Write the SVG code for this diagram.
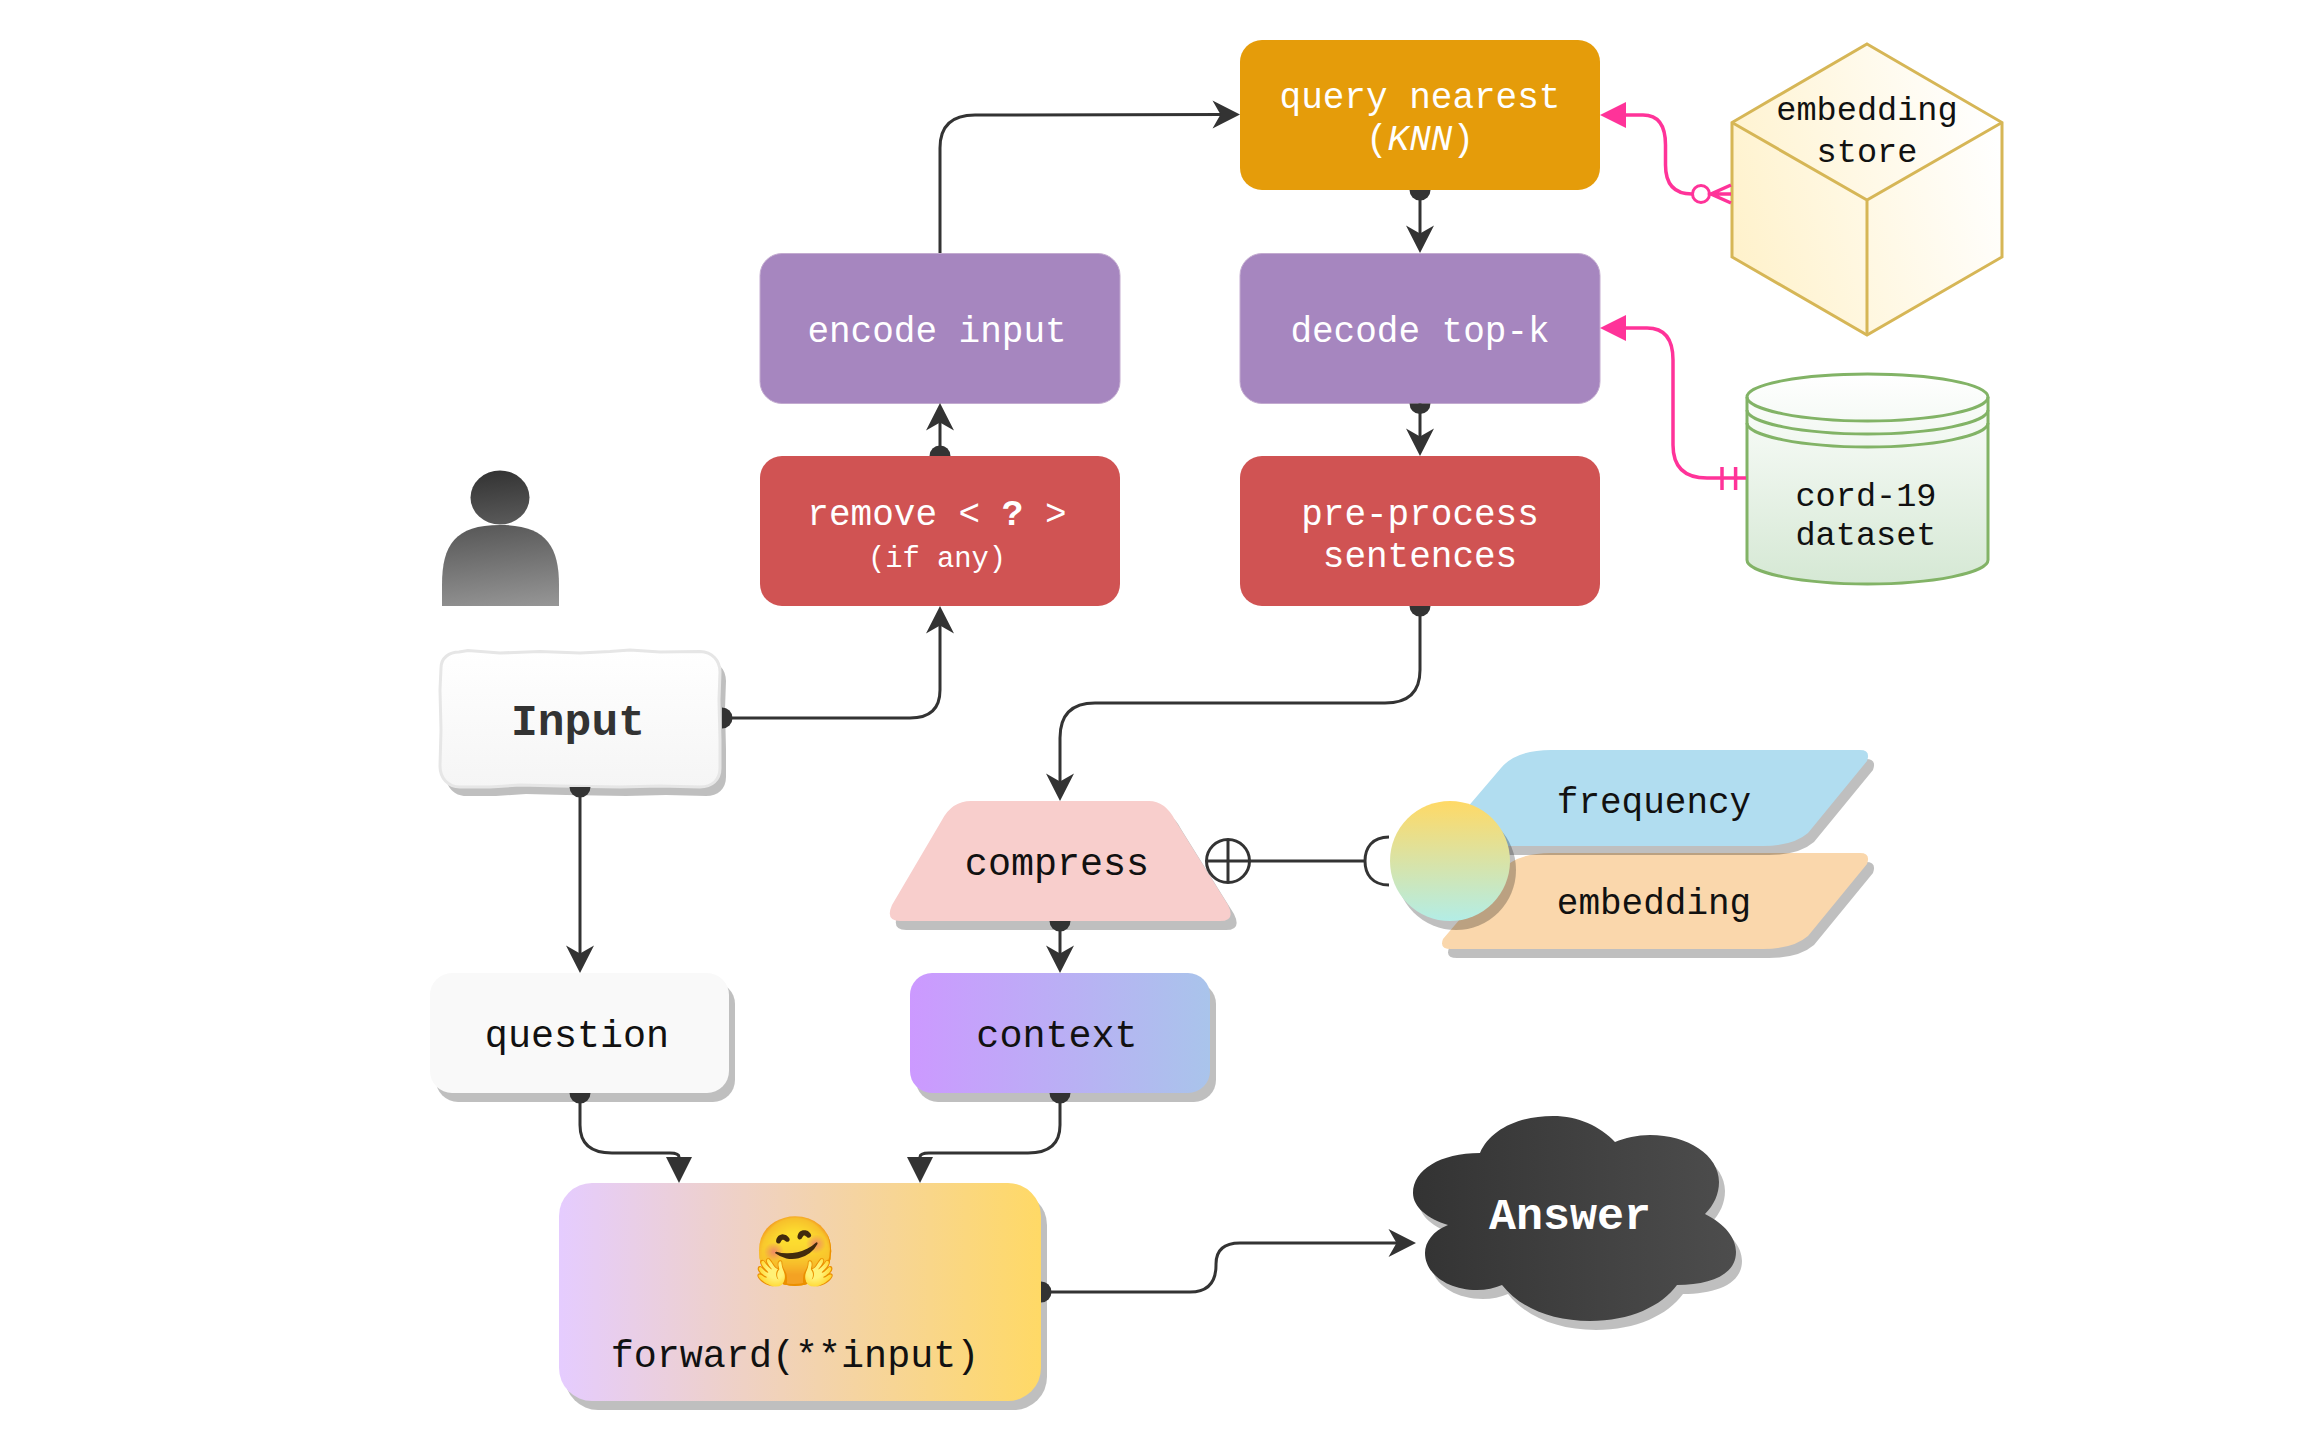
<svg xmlns="http://www.w3.org/2000/svg" xmlns:xlink="http://www.w3.org/1999/xlink" width="2305" height="1438" viewBox="0 0 2305 1438">
<style>
text{font-family:"Liberation Mono",monospace;text-anchor:middle}
.w{fill:#fff;font-size:36px}
.k{fill:#111;font-size:36px}
.m{fill:#111;font-size:38.4px}
.s{fill:#000;opacity:.25}
.c{fill:none;stroke:#333;stroke-width:3}
.p{fill:none;stroke:#f39;stroke-width:3.500}
.b{marker-start:url(#dot)}
.a{marker-end:url(#arrow)}
</style>
<defs>
<marker id="dot" markerUnits="userSpaceOnUse" markerWidth="24" markerHeight="24" viewBox="-1 -12 12 24" refX="0" refY="0" orient="auto"><path d="M0 -10.5A10.5 10.5 0 0 1 0 10.5Z" fill="#333"/></marker>
<marker id="arrow" markerUnits="userSpaceOnUse" markerWidth="44" markerHeight="40" viewBox="-20 -20 44 40" refX="2.500" refY="0" orient="auto"><path d="M-8 -14L19.500 0L-8 14L0 0Z" fill="#333"/></marker>
<marker id="tri" markerUnits="userSpaceOnUse" markerWidth="32" markerHeight="32" viewBox="-2 -16 32 32" refX="0" refY="0" orient="auto"><path d="M0 -13L26 0L0 13Z" fill="#333"/></marker>
<marker id="ptri" markerUnits="userSpaceOnUse" markerWidth="32" markerHeight="32" viewBox="-2 -16 32 32" refX="0" refY="0" orient="auto"><path d="M0 -13L26 0L0 13Z" fill="#f39"/></marker>
<linearGradient id="gPerson" gradientUnits="userSpaceOnUse" x1="493" y1="470" x2="510" y2="625"><stop offset="0" stop-color="#333"/><stop offset="1" stop-color="#a0a0a0"/></linearGradient>
<linearGradient id="gInput" x1="0" y1="0" x2="0" y2="1"><stop offset="0" stop-color="#fff"/><stop offset="1" stop-color="#f5f5f5"/></linearGradient>
<linearGradient id="gCube" x1="0" y1=".65" x2="1" y2=".35"><stop offset="0" stop-color="#fff2cc"/><stop offset="1" stop-color="#fff"/></linearGradient>
<linearGradient id="gCyl" x1="0" y1="0" x2="0" y2="1"><stop offset="0" stop-color="#fff"/><stop offset="1" stop-color="#d5e8d4"/></linearGradient>
<linearGradient id="gCtx"><stop offset="0" stop-color="#c9f"/><stop offset="1" stop-color="#a9c4eb"/></linearGradient>
<linearGradient id="gFwd"><stop offset="0" stop-color="#e5ccff"/><stop offset="1" stop-color="#ffd966"/></linearGradient>
<linearGradient id="gCircle" x1="0" y1="0" x2="0" y2="1"><stop offset="0" stop-color="#ffd966"/><stop offset="1" stop-color="#b3ede6"/></linearGradient>
<linearGradient id="gCloud"><stop offset="0" stop-color="#333"/><stop offset="1" stop-color="#4d4d4d"/></linearGradient>
<path id="para" d="M1551 750L1860 750Q1871 750 1867 761L1808 833Q1793 846 1763 846L1451 846Q1439 846 1443 836L1501 768Q1516 750 1551 750Z"/>
<path id="trap" d="M971 801L1149 801Q1165 801 1175 820L1228 905Q1236 921 1220 921L900 921Q885 921 892 905L942 820Q952 801 971 801Z"/>
<path id="cloud" d="M1480 1153C1440 1153 1413 1170 1413 1193C1413 1207 1428 1219 1448 1225C1433 1231 1425 1242 1425 1253C1425 1274 1448 1290 1477 1290C1486 1290 1495 1288 1502 1285C1520 1308 1552 1321 1590 1321C1630 1321 1662 1306 1677 1285C1710 1285 1736 1275 1736 1252C1736 1238 1725 1224 1705 1214C1714 1205 1719 1194 1719 1182C1719 1155 1688 1135 1650 1135C1637 1135 1625 1138 1615 1142C1600 1126 1578 1116 1553 1116C1518 1116 1490 1130 1480 1153Z"/>
<path id="sketch" d="M459 652L468 650.500L500 653L540 651.500L580 653L610 651.500L630 650L660 652L700 651.500C712 652 720 660 720 672L719 700L720 740L720 768C720 780 712 787 700 787L660 786L620 787L560 786L520 785L490 787L460 787C448 787 440 778 440 766L441 730L440 690L441 668C441 658 449 652 459 652Z"/>
</defs>
<rect width="2305" height="1438" fill="#fff"/>
<g id="user"><ellipse cx="500" cy="497.500" rx="29.5" ry="27" fill="url(#gPerson)"/><path d="M442 606L442 585C442 545 455 525 500 525C545 525 559 545 559 585L559 606Z" fill="url(#gPerson)"/></g>
<g id="input"><use href="#sketch" x="6" y="9" class="s"/><use href="#sketch" fill="url(#gInput)" stroke="#e6e6e6" stroke-width="3"/><text x="578" y="735" style="font-size:44.6px;font-weight:700;fill:#333">Input</text></g>
<g id="remove"><rect x="760" y="456" width="360" height="150" rx="22" fill="#d05353"/><text x="937" y="525" class="w">remove &lt; <tspan font-weight="700">?</tspan> &gt;</text><text x="937" y="567" class="w" style="font-size:28.8px">(if any)</text></g>
<g id="encode"><rect x="760" y="253.500" width="360" height="150" rx="22" fill="#a686bf" stroke="#c3abd0" stroke-width="1"/><text x="937" y="342" class="w">encode input</text></g>
<g id="query"><rect x="1240" y="40" width="360" height="150" rx="22" fill="#e59c0a"/><text x="1420" y="108" class="w">query nearest</text><text x="1420" y="150" class="w">(<tspan font-style="italic">KNN</tspan>)</text></g>
<g id="decode"><rect x="1240" y="253.500" width="360" height="150" rx="22" fill="#a686bf" stroke="#c3abd0" stroke-width="1"/><text x="1420" y="342" class="w">decode top-k</text></g>
<g id="preprocess"><rect x="1240" y="456" width="360" height="150" rx="22" fill="#d05353"/><text x="1420" y="525" class="w">pre-process</text><text x="1420" y="567" class="w">sentences</text></g>
<g id="store"><path d="M1867 44L2002 122.500L2002 257L1867 335L1732 257L1732 122.500Z" fill="url(#gCube)" stroke="#d6b656" stroke-width="3"/><path d="M1732 122.500L1867 200L2002 122.500M1867 200L1867 335" fill="none" stroke="#d6b656" stroke-width="3"/><text x="1867" y="119.500" class="k" style="font-size:33.6px">embedding</text><text x="1867" y="161.500" class="k" style="font-size:33.6px">store</text></g>
<g id="dataset"><path d="M1747 397C1747 384 1803 374 1867.500 374C1932 374 1988 384 1988 397L1988 560C1988 573 1932 584 1867.500 584C1803 584 1747 573 1747 560Z" fill="url(#gCyl)" stroke="#82b366" stroke-width="3"/><path d="M1747 397C1747 410 1803 421 1867.500 421C1932 421 1988 410 1988 397M1747 410C1747 423 1803 434 1867.500 434C1932 434 1988 423 1988 410M1747 423C1747 436 1803 447 1867.500 447C1932 447 1988 436 1988 423" fill="none" stroke="#82b366" stroke-width="3"/><text x="1866" y="506" class="k" style="font-size:33.6px">cord-19</text><text x="1866" y="545" class="k" style="font-size:33.6px">dataset</text></g>
<g id="compress"><use href="#trap" x="6" y="9" class="s"/><use href="#trap" fill="#f8cecc"/><text x="1057" y="875" class="m">compress</text></g>
<g id="embedding"><use href="#para" x="6" y="112" class="s"/><use href="#para" y="103" fill="#fad7ac"/><text x="1654" y="914" class="k">embedding</text></g>
<g id="frequency"><use href="#para" x="6" y="9" class="s"/><use href="#para" fill="#b1ddf0"/><text x="1654" y="813" class="k">frequency</text></g>
<g id="join"><circle cx="1456" cy="870" r="60" class="s"/><circle cx="1450" cy="861" r="60" fill="url(#gCircle)"/></g>
<g id="question"><rect x="436" y="982" width="299" height="120" rx="22" class="s"/><rect x="430" y="973" width="299" height="120" rx="22" fill="#f9f9f9"/><text x="577" y="1047" class="m">question</text></g>
<g id="context"><rect x="916" y="982" width="300" height="120" rx="22" class="s"/><rect x="910" y="973" width="300" height="120" rx="22" fill="url(#gCtx)"/><text x="1057" y="1047" class="m">context</text></g>
<g id="forward"><rect x="565" y="1192" width="482" height="218" rx="33" class="s"/><rect x="559" y="1183" width="482" height="218" rx="33" fill="url(#gFwd)"/><text x="796" y="1275" style="font-size:68px;font-family:'Noto Color Emoji','Noto Sans',sans-serif">🤗</text><text x="795" y="1367" class="m">forward(**input)</text></g>
<g id="answer"><use href="#cloud" x="6" y="9" class="s"/><use href="#cloud" fill="url(#gCloud)"/><text x="1570" y="1229" style="font-size:45px;font-weight:700;fill:#fff">Answer</text></g>
<g id="connectors">
<path class="c b a" d="M722 718L910 718Q940 718 940 690L940 623"/>
<path class="c b a" d="M940 456L940 420"/>
<path class="c a" d="M940 253L940 148Q940 115 975 115L1223 114.500"/>
<path class="c b a" d="M1420 190L1420 236"/>
<path class="c b a" d="M1420 403.500L1420 439"/>
<path class="c b a" d="M1420 606L1420 670Q1420 703 1385 703L1095 703Q1060 703 1060 738L1060 784"/>
<path class="c b a" d="M580 787L580 956"/>
<path class="c b a" d="M1060 921L1060 956"/>
<path class="c b" style="marker-end:url(#tri)" d="M580 1093L580 1125Q580 1153 612 1153L670 1153Q679 1153 679 1157"/>
<path class="c b" style="marker-end:url(#tri)" d="M1060 1093L1060 1125Q1060 1153 1028 1153L929 1153Q920 1153 920 1157"/>
<path class="c b a" d="M1041 1292L1190 1292Q1216 1292 1216 1265L1216 1264Q1216 1243 1240 1243L1399 1243"/>
<path class="c" d="M1207 861L1365 861M1389 837C1372 837 1365 848 1365 861C1365 874 1372 885 1389 885"/>
<circle cx="1228" cy="861" r="21.500" class="c"/><path class="c" d="M1228 839.500L1228 882.500"/>
<path class="p" style="marker-end:url(#ptri)" d="M1692 194Q1665.500 194 1665.500 165L1665.500 145Q1665.500 115 1643 115L1626 115"/>
<circle cx="1701" cy="194" r="8.500" fill="#fff" stroke="#f39" stroke-width="3"/>
<path class="p" d="M1710 194L1731 194M1731 185L1711 194L1731 203"/>
<path class="p" style="marker-end:url(#ptri)" d="M1746 478L1707 478Q1673 478 1673 445L1673 360Q1673 328 1647 328L1626 328"/>
<path class="p" d="M1722 467L1722 490M1735.600 467L1735.600 490"/>
</g>
</svg>
